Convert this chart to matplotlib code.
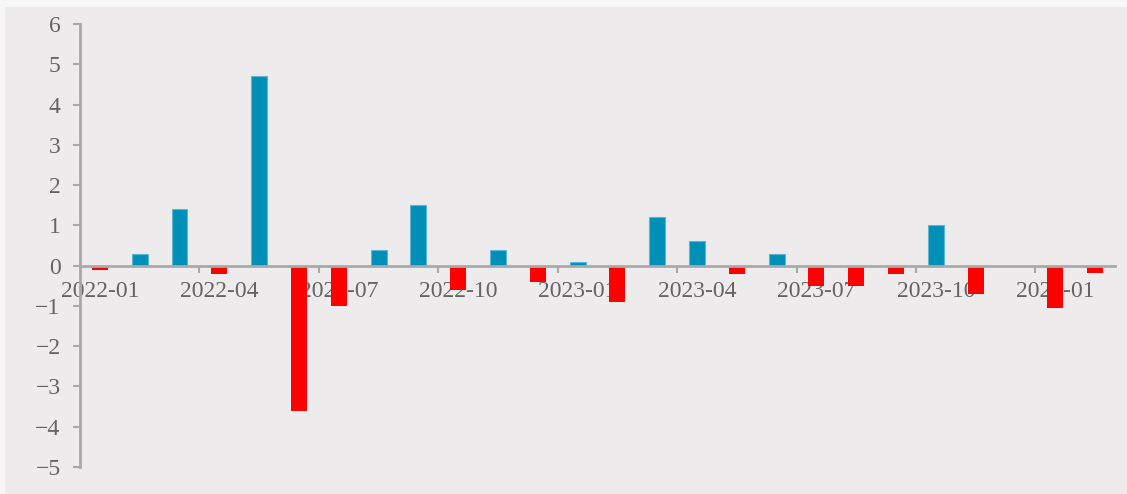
import matplotlib
matplotlib.use("Agg")
import matplotlib.pyplot as plt
import numpy as np

# Monthly values, 2022-01 .. 2024-02
months = ["2022-01", "2022-02", "2022-03", "2022-04", "2022-05", "2022-06",
          "2022-07", "2022-08", "2022-09", "2022-10", "2022-11", "2022-12",
          "2023-01", "2023-02", "2023-03", "2023-04", "2023-05", "2023-06",
          "2023-07", "2023-08", "2023-09", "2023-10", "2023-11", "2023-12",
          "2024-01", "2024-02"]
values = [-0.1, 0.3, 1.4, -0.2, 4.7, -3.6, -1.0, 0.4, 1.5, -0.6, 0.4, -0.4,
          0.1, -0.9, 1.2, 0.6, -0.2, 0.3, -0.5, -0.5, -0.2, 1.0, -0.7, 0.0,
          -1.05, -0.18]
y_ticks = [-5, -4, -3, -2, -1, 0, 1, 2, 3, 4, 5, 6]

POS_COLOR = "#008FB7"
POS_EDGE = "#5DB7D3"
NEG_COLOR = "#FF0000"
AXIS_COLOR = "#A9A9A9"
TEXT_COLOR = "#646464"
BG = "#EDEBEC"

plt.rcParams["font.family"] = ["Liberation Serif", "DejaVu Serif"]

fig = plt.figure(figsize=(11.27, 4.94), dpi=100)
fig.patch.set_facecolor("#F7F7F7")
# chart panel background
fig.patches.append(plt.Rectangle((5 / 1127, 0), 1 - 5 / 1127, 1 - 7 / 494,
                                 transform=fig.transFigure, facecolor=BG,
                                 edgecolor="none", zorder=-10))

ax = fig.add_axes([80 / 1127, 27 / 494, 1035 / 1127, 443 / 494])
ax.set_facecolor("none")

x = np.arange(len(months))
vals = np.array(values)
pos = vals >= 0
ax.bar(x[pos], vals[pos], width=0.4, color=POS_COLOR, edgecolor=POS_EDGE,
       linewidth=0.8, zorder=2)
ax.bar(x[~pos], vals[~pos], width=0.4, color=NEG_COLOR, edgecolor="none",
       zorder=2)

ax.set_xlim(-0.5, len(months) - 0.5)
ax.set_ylim(-5, 6)

# spines
for s in ["top", "right"]:
    ax.spines[s].set_visible(False)
ax.spines["left"].set_color(AXIS_COLOR)
ax.spines["left"].set_linewidth(2)
ax.spines["bottom"].set_position(("data", 0))
ax.spines["bottom"].set_color(AXIS_COLOR)
ax.spines["bottom"].set_linewidth(2)
ax.spines["bottom"].set_zorder(3)

# y axis
ax.set_yticks(y_ticks)
ax.set_yticklabels([str(v).replace("-", "\u2212") for v in y_ticks])
ax.tick_params(axis="y", direction="out", length=5, width=1.5,
               color=AXIS_COLOR, labelcolor=TEXT_COLOR, labelsize=17, pad=9)

# x axis: marks at every third category boundary, labels at category centres
ax.set_xticks(np.arange(2.5, len(months) - 1, 3))
ax.set_xticklabels([])
ax.tick_params(axis="x", which="major", direction="out", length=5, width=1.5,
               color=AXIS_COLOR)
ax.set_xticks(x[::3], minor=True)
ax.set_xticklabels(months[::3], minor=True)
ax.tick_params(axis="x", which="minor", length=0, labelcolor=TEXT_COLOR,
               labelsize=17, pad=11)

fig.savefig("out.png", dpi=100, facecolor=fig.get_facecolor())
